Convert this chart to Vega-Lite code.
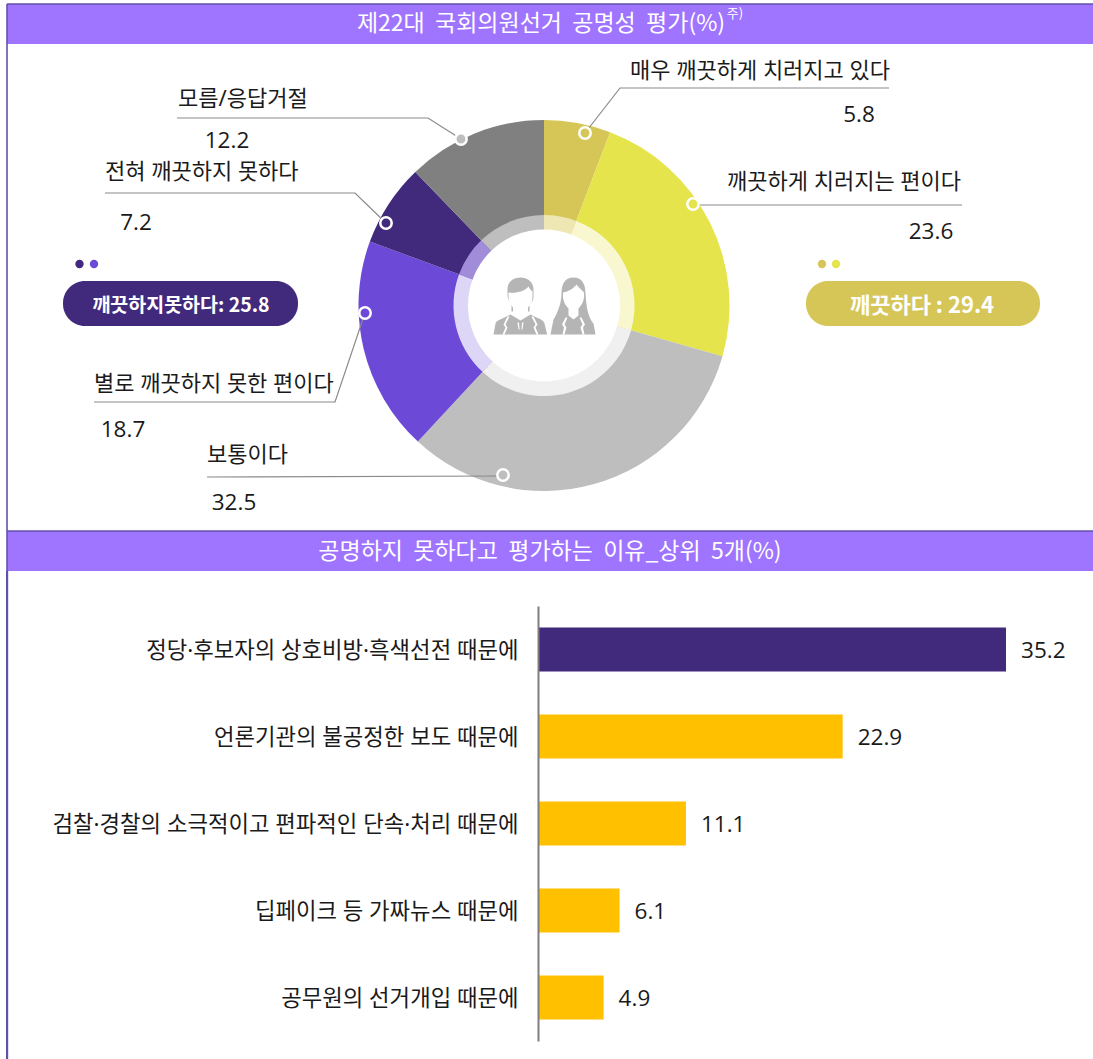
{
"$schema":"https://vega.github.io/schema/vega-lite/v6.json",
"padding":0,"spacing":0,"background":"white","bounds":"flush",
"resolve":{"scale":{"color":"independent"}},
"config":{"view":{"stroke":null},"concat":{"spacing":0}},
"datasets":{
"slices":[
{"label":"매우 깨끗하게 치러지고 있다","ring":"ring 1","value":5.8,"order":1},
{"label":"깨끗하게 치러지는 편이다","ring":"ring 2","value":23.6,"order":2},
{"label":"보통이다","ring":"ring 3","value":32.5,"order":3},
{"label":"별로 깨끗하지 못한 편이다","ring":"ring 4","value":18.7,"order":4},
{"label":"전혀 깨끗하지 못하다","ring":"ring 5","value":7.2,"order":5},
{"label":"모름/응답거절","ring":"ring 6","value":12.2,"order":6}],
"bands":[{"x":7,"x2":1093,"y":4,"y2":44},{"x":7,"x2":1093,"y":531,"y2":571}],
"pills":[{"cat":"전혀 깨끗하지 못하다","x":63,"x2":298,"y":281,"y2":326},{"cat":"매우 깨끗하게 치러지고 있다","x":806,"x2":1040,"y":281,"y2":326}],
"edges":[{"id":"l","x":7,"y":4},{"id":"l","x":7,"y":571},{"id":"t","x":7,"y":4},{"id":"t","x":1093,"y":4},{"id":"m","x":7,"y":531},{"id":"m","x":1093,"y":531}],
"leaders":[
{"id":"a","n":1,"x":889,"y":88},{"id":"a","n":2,"x":620,"y":88},{"id":"a","n":3,"x":585,"y":133},
{"id":"b","n":1,"x":962,"y":205},{"id":"b","n":2,"x":693,"y":205},
{"id":"c","n":1,"x":207,"y":477},{"id":"c","n":2,"x":503,"y":476},
{"id":"d","n":1,"x":94,"y":402},{"id":"d","n":2,"x":335,"y":402},{"id":"d","n":3,"x":365,"y":313},
{"id":"e","n":1,"x":105,"y":193},{"id":"e","n":2,"x":355,"y":193},{"id":"e","n":3,"x":386,"y":223},
{"id":"f","n":1,"x":177,"y":118},{"id":"f","n":2,"x":428,"y":118},{"id":"f","n":3,"x":461,"y":139}],
"dots":[
{"cat":"매우 깨끗하게 치러지고 있다","x":585,"y":133},
{"cat":"깨끗하게 치러지는 편이다","x":693,"y":204},
{"cat":"보통이다","x":503,"y":475},
{"cat":"별로 깨끗하지 못한 편이다","x":365,"y":313},
{"cat":"전혀 깨끗하지 못하다","x":386,"y":223},
{"cat":"보통이다","x":461,"y":139}],
"smallDots":[
{"cat":"전혀 깨끗하지 못하다","x":79.5,"y":264},{"cat":"별로 깨끗하지 못한 편이다","x":94,"y":264},
{"cat":"매우 깨끗하게 치러지고 있다","x":822,"y":264},{"cat":"깨끗하게 치러지는 편이다","x":836,"y":264}],
"labels":[
{"text":"매우 깨끗하게 치러지고 있다","x":630,"y":71},
{"text":"깨끗하게 치러지는 편이다","x":727,"y":182},
{"text":"보통이다","x":207,"y":455},
{"text":"별로 깨끗하지 못한 편이다","x":94,"y":384},
{"text":"전혀 깨끗하지 못하다","x":105,"y":172},
{"text":"모름/응답거절","x":178,"y":99}],
"values":[
{"text":"5.8","x":859,"y":115},
{"text":"23.6","x":931,"y":232},
{"text":"32.5","x":234,"y":503},
{"text":"18.7","x":123,"y":430},
{"text":"7.2","x":136,"y":223},
{"text":"12.2","x":227,"y":141}],
"titles":[
{"text":"제22대\u00a0\u00a0국회의원선거\u00a0\u00a0공명성\u00a0\u00a0평가(%)","x":541,"y":24},
{"text":"공명하지\u00a0\u00a0못하다고\u00a0\u00a0평가하는\u00a0\u00a0이유_상위\u00a0\u00a05개(%)","x":550,"y":552}],
"bars":[
{"label":"정당·후보자의 상호비방·흑색선전 때문에","value":35.2},
{"label":"언론기관의 불공정한 보도 때문에","value":22.9},
{"label":"검찰·경찰의 소극적이고 편파적인 단속·처리 때문에","value":11.1},
{"label":"딥페이크 등 가짜뉴스 때문에","value":6.1},
{"label":"공무원의 선거개입 때문에","value":4.9}]
},
"vconcat":[
{"width":1093,"height":571,
"layer":[
{"data":{"name":"slices"},"mark":{"type":"arc","outerRadius":185.5,"innerRadius":0},
"encoding":{"x":{"datum":544,"type":"quantitative","scale":{"domain":[0,1093],"nice":false,"zero":false},"axis":null},"y":{"datum":305.5,"type":"quantitative","scale":{"domain":[0,571],"reverse":true,"nice":false,"zero":false},"axis":null},
"theta":{"field":"value","type":"quantitative","stack":true},"order":{"field":"order"},
"color":{"field":"label","type":"nominal","legend":null,"scale":{"domain":["매우 깨끗하게 치러지고 있다","깨끗하게 치러지는 편이다","보통이다","별로 깨끗하지 못한 편이다","전혀 깨끗하지 못하다","모름/응답거절","ring 1","ring 2","ring 3","ring 4","ring 5","ring 6"],"range":["#d6c658","#e6e44c","#bebebe","#6c49d6","#41297c","#808080","#eee6b3","#f9f7d0","#f0f0f0","#ddd6f7","#a08cd8","#bebebe"]}}}},
{"data":{"name":"slices"},"mark":{"type":"arc","outerRadius":90.5,"innerRadius":70},
"encoding":{"x":{"datum":544,"type":"quantitative","axis":null},"y":{"datum":305.5,"type":"quantitative","axis":null},
"theta":{"field":"value","type":"quantitative","stack":true},"order":{"field":"order"},
"color":{"field":"ring","type":"nominal","legend":null}}},
{"data":{"values":[{"part":"centre"}]},"mark":{"type":"point","filled":true,"shape":"circle","size":23104,"color":"white","opacity":1},
"encoding":{"x":{"datum":544,"type":"quantitative","axis":null},"y":{"datum":305.5,"type":"quantitative","axis":null}}},
{"data":{"values":[{"part":"people"}]},"mark":{"type":"point","filled":true,"size":4,"color":"#b5b5b5","opacity":1,"shape":"M-37,-16 C-37,-24 -31,-28 -24,-28 C-16,-28 -11,-23 -11,-16 L-11,-8 C-11,-5 -13,-3 -15,-1 L-15,6 L-33,6 L-33,-1 C-35,-4 -37,-6 -37,-10 Z M-51,29 L-49,18 C-48,15 -44,14 -38,11 L-34,9 L-24,15 L-14,9 L-8,12 C-3,14 -1,15 0,18 L2.7,29 Z M29,-28 C20,-28 17,-21 17,-12 C17,-4 14,6 9,14 L6,29 L51,29 L49,18 C44,12 42,4 41,-12 C41,-21 38,-28 29,-28 Z"},
"encoding":{"x":{"datum":544.5,"type":"quantitative","axis":null},"y":{"datum":305.5,"type":"quantitative","axis":null}}},
{"data":{"values":[{"part":"people detail"}]},"mark":{"type":"point","filled":true,"size":4,"color":"white","opacity":1,"shape":"M-36,-13 C-28,-12 -20,-14 -16,-19 C-14.5,-16 -13,-15 -12,-14 L-12,-8 C-12,-3 -15,0 -16.5,2 L-16.5,7 L-24,14 L-31.5,7 L-31.5,2 C-33,0 -36,-3 -36,-8 Z M-37,11 L-35,11 L-39,19 L-37,22 L-40,29 L-42,29 L-39,22 L-41,19 Z M-11,11 L-13,11 L-9,19 L-11,22 L-8,29 L-6,29 L-9,22 L-7,19 Z M-27,17 L-25.5,17 L-25,24 L-26,24 Z M-22.5,17 L-21,17 L-22,24 L-23,24 Z M18.5,-13 C24,-14 29,-17 32,-21 C34,-18 37,-16 39.5,-13 L39.5,-9 C39.5,-3 35,2 34,3 L34,10 L29,14 L24,10 L24,3 C23,2 18.5,-3 18.5,-9 Z M21,12 L23,12 L20,19 L22,22 L20,29 L18,29 L19.5,22 L17.5,19 Z M37,12 L35,12 L38,19 L36,22 L38,29 L40,29 L38.5,22 L40.5,19 Z"},
"encoding":{"x":{"datum":544.5,"type":"quantitative","axis":null},"y":{"datum":305.5,"type":"quantitative","axis":null}}},
{"data":{"name":"bands"},"mark":{"type":"rect","color":"#9f74ff"},"encoding":{"x":{"field":"x","type":"quantitative","axis":null},"y":{"field":"y","type":"quantitative","axis":null},"x2":{"field":"x2"},"y2":{"field":"y2"}}},
{"data":{"name":"edges"},"mark":{"type":"line","color":"#6350ae","strokeWidth":1.6},"encoding":{"x":{"field":"x","type":"quantitative","axis":null},"y":{"field":"y","type":"quantitative","axis":null},"detail":{"field":"id"}}},
{"data":{"name":"leaders"},"mark":{"type":"line","color":"#8a8a8a","strokeWidth":1.2},"encoding":{"x":{"field":"x","type":"quantitative","axis":null},"y":{"field":"y","type":"quantitative","axis":null},"detail":{"field":"id"},"order":{"field":"n"}}},
{"data":{"name":"pills"},"mark":{"type":"rect","cornerRadius":22},"encoding":{"x":{"field":"x","type":"quantitative","axis":null},"y":{"field":"y","type":"quantitative","axis":null},"x2":{"field":"x2"},"y2":{"field":"y2"},"color":{"field":"cat","type":"nominal","legend":null}}},
{"data":{"name":"dots"},"mark":{"type":"point","filled":true,"shape":"circle","size":130,"stroke":"white","strokeWidth":2.5,"opacity":1},"encoding":{"x":{"field":"x","type":"quantitative","axis":null},"y":{"field":"y","type":"quantitative","axis":null},"color":{"field":"cat","type":"nominal","legend":null}}},
{"data":{"name":"smallDots"},"mark":{"type":"point","filled":true,"shape":"circle","size":70,"opacity":1},"encoding":{"x":{"field":"x","type":"quantitative","axis":null},"y":{"field":"y","type":"quantitative","axis":null},"color":{"field":"cat","type":"nominal","legend":null}}},
{"data":{"name":"labels"},"mark":{"type":"text","align":"left","baseline":"middle","font":"Noto Sans, Noto Sans CJK KR","fontSize":22,"color":"#1a1a1a"},"encoding":{"x":{"field":"x","type":"quantitative","axis":null},"y":{"field":"y","type":"quantitative","axis":null},"text":{"field":"text"}}},
{"data":{"name":"values"},"mark":{"type":"text","align":"center","baseline":"middle","font":"Open Sans","fontSize":22.5,"color":"#1a1a1a"},"encoding":{"x":{"field":"x","type":"quantitative","axis":null},"y":{"field":"y","type":"quantitative","axis":null},"text":{"field":"text"}}},
{"data":{"name":"titles"},"mark":{"type":"text","align":"center","baseline":"middle","font":"Noto Sans CJK KR","fontSize":23,"color":"white"},"encoding":{"x":{"field":"x","type":"quantitative","axis":null},"y":{"field":"y","type":"quantitative","axis":null},"text":{"field":"text"}}},
{"data":{"values":[{"text":"주)","x":735,"y":14}]},"mark":{"type":"text","align":"center","baseline":"middle","font":"Noto Sans CJK KR","fontSize":13,"color":"white"},"encoding":{"x":{"field":"x","type":"quantitative","axis":null},"y":{"field":"y","type":"quantitative","axis":null},"text":{"field":"text"}}},
{"data":{"values":[{"text":"깨끗하지못하다: 25.8","x":181,"y":305.5}]},"mark":{"type":"text","align":"center","baseline":"middle","font":"Noto Sans CJK KR","fontSize":19.5,"fontWeight":"bold","color":"white"},"encoding":{"x":{"field":"x","type":"quantitative","axis":null},"y":{"field":"y","type":"quantitative","axis":null},"text":{"field":"text"}}},
{"data":{"values":[{"text":"깨끗하다 : 29.4","x":922,"y":305.5}]},"mark":{"type":"text","align":"center","baseline":"middle","font":"Noto Sans CJK KR","fontSize":22,"fontWeight":"bold","color":"white"},"encoding":{"x":{"field":"x","type":"quantitative","axis":null},"y":{"field":"y","type":"quantitative","axis":null},"text":{"field":"text"}}}
]},
{"width":1093,"height":488,"data":{"name":"bars"},
"encoding":{
"y":{"field":"label","type":"nominal","sort":null,"scale":{"range":[35,470],"paddingInner":0.494,"paddingOuter":0.247},
"axis":{"title":null,"orient":"left","offset":-538,"ticks":false,"domainColor":"#7f7f7f","domainWidth":2,"labelPadding":20,"labelFontSize":22.3,"labelFont":"Noto Sans, Noto Sans CJK KR","labelColor":"#1a1a1a","labelLimit":600,"labelOffset":1.5,"zindex":1}}},
"layer":[
{"mark":{"type":"bar"},"encoding":{
"x":{"field":"value","type":"quantitative","scale":{"domain":[-40.55,41.75],"nice":false,"zero":false},"axis":null},
"color":{"field":"label","type":"nominal","legend":null,"sort":null,"scale":{"domain":["정당·후보자의 상호비방·흑색선전 때문에","언론기관의 불공정한 보도 때문에","검찰·경찰의 소극적이고 편파적인 단속·처리 때문에","딥페이크 등 가짜뉴스 때문에","공무원의 선거개입 때문에"],"range":["#41297c","#ffc000","#ffc000","#ffc000","#ffc000"]}}}},
{"mark":{"type":"text","align":"left","baseline":"middle","dx":15,"dy":1.5,"font":"Open Sans","fontSize":22.5,"color":"#1a1a1a"},"encoding":{
"x":{"field":"value","type":"quantitative"},
"text":{"field":"value","type":"quantitative","format":".1f"}}},
{"mark":{"type":"rule","color":"#6350ae","strokeWidth":2},"encoding":{"x":{"datum":-40.02,"type":"quantitative"},"y":{"value":0},"y2":{"value":488}}}
]}
]}
